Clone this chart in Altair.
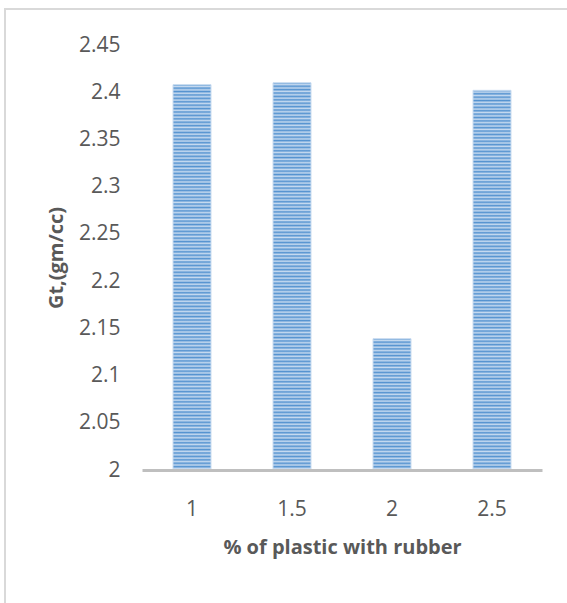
import altair as alt
import pandas as pd

# Bulk specific gravity (Gt) for each plastic+rubber percentage
pct_labels = ["1", "1.5", "2", "2.5"]
gt_values = [2.408, 2.410, 2.139, 2.402]
y_ticks = [2.0, 2.05, 2.1, 2.15, 2.2, 2.25, 2.3, 2.35, 2.4, 2.45]

Y_MIN, Y_MAX = 2.0, 2.45
PLOT_W, PLOT_H = 400, 425
TEXT = "#595959"
FONT = "Open Sans"
DARK = "#5593d0"
LIGHT = "#c6daf0"

df = pd.DataFrame({"pct": pct_labels, "gt": gt_values})

x_enc = alt.X(
    "pct:N",
    sort=pct_labels,
    scale=alt.Scale(paddingInner=0.62, paddingOuter=0.31),
    axis=alt.Axis(
        title="% of plastic with  rubber",
        labelAngle=0,
        ticks=False,
        domainColor="#bfbfbf",
        domainWidth=3,
        labelPadding=28,
        titlePadding=18,
        zindex=1,
    ),
)
y_enc = alt.Y(
    "gt:Q",
    scale=alt.Scale(domain=[Y_MIN, Y_MAX], zero=False, nice=False),
    axis=alt.Axis(
        title="Gt,(gm/cc)",
        values=y_ticks,
        format=".2~f",
        domain=False,
        ticks=False,
        grid=False,
        labelPadding=22,
        titlePadding=12,
    ),
)


def striped_fill(value):
    """Horizontal stripe pattern as a banded linear gradient."""
    h = (value - Y_MIN) / (Y_MAX - Y_MIN) * PLOT_H
    n = max(1, round(h / 3.4))
    stops = []
    for i in range(n):
        stops.append(alt.GradientStop(offset=i / n, color=DARK))
        stops.append(alt.GradientStop(offset=(i + 0.55) / n, color=LIGHT))
    stops.append(alt.GradientStop(offset=1.0, color=DARK))
    return alt.Gradient(gradient="linear", x1=0, y1=0, x2=0, y2=1, stops=stops)


base = alt.Chart(df)
bars = [
    base.transform_filter(alt.datum.pct == lab)
    .mark_bar(fill=striped_fill(v), stroke="#c9dcf0", strokeWidth=1)
    .encode(x=x_enc, y=y_enc, y2=alt.datum(Y_MIN))
    for lab, v in zip(pct_labels, gt_values)
]

frame = (
    alt.Chart(pd.DataFrame({"k": [0]}))
    .mark_rect(fill=None, stroke="#d9d9d9", strokeWidth=2)
    .encode(
        x=alt.value(-137), x2=alt.value(700),
        y=alt.value(-36), y2=alt.value(700),
    )
)

chart = (
    alt.layer(frame, *bars)
    .properties(
        width=PLOT_W,
        height=PLOT_H,
        autosize=alt.AutoSizeParams(type="none"),
        padding={"left": 142, "top": 45, "right": 25, "bottom": 133},
    )
    .configure_view(stroke=None)
    .configure_axis(
        labelFont=FONT,
        labelFontSize=21,
        labelColor=TEXT,
        titleFont=FONT,
        titleFontSize=20,
        titleFontWeight="bold",
        titleColor=TEXT,
    )
)

chart.save("out.html", embed_options={"renderer": "svg", "actions": False})
